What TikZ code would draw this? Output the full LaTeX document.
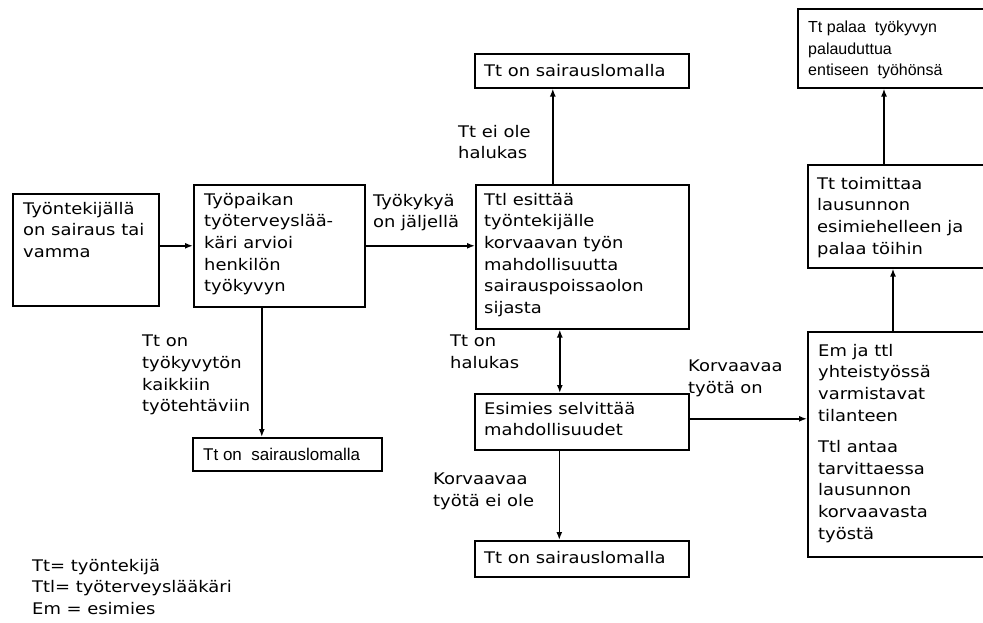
\documentclass[tikz,border=0pt]{standalone}
\usepackage{fontspec}
\setmainfont{DejaVu Sans}[FakeStretch=1.12]
\newfontfamily\arialf{Liberation Sans}
\usetikzlibrary{arrows.meta}
\begin{document}
\begin{tikzpicture}[x=1pt,y=-1pt,
  box/.style={draw, line width=1.6pt, inner sep=0pt, anchor=north west},
  txt/.style={inner sep=0pt, anchor=north west, align=left, font=\fontsize{16}{21.6}\selectfont},
  atxt/.style={inner sep=0pt, anchor=north west, align=left, font=\arialf\fontsize{16}{21.6}\selectfont},
  arr/.style={line width=1.5pt, -{Latex[length=8pt,width=6pt]}},
  darr/.style={line width=1.5pt, {Latex[length=8pt,width=6pt]}-{Latex[length=8pt,width=6pt]}}]
\clip (0,0) rectangle (983,623);
\fill[white] (0,0) rectangle (983,623);
% boxes
\node[box, minimum width=146pt, minimum height=112pt] (A) at (12,193) {};
\node[box, minimum width=171pt, minimum height=122pt] (B) at (193,184) {};
\node[box, minimum width=189pt, minimum height=33pt] (C) at (192,437) {};
\node[box, minimum width=213pt, minimum height=144pt] (D) at (475,184) {};
\node[box, minimum width=214pt, minimum height=34pt] (E) at (474,53) {};
\node[box, minimum width=214pt, minimum height=56pt] (F) at (474,393) {};
\node[box, minimum width=214pt, minimum height=36pt] (G) at (474,540) {};
\node[box, minimum width=190pt, minimum height=225pt] (H) at (807,331) {};
\node[box, minimum width=190pt, minimum height=103pt] (I) at (807,164) {};
\node[box, minimum width=200pt, minimum height=79pt] (J) at (797,8) {};
% box texts
\node[txt] (tA) at (23,202) {Työntekijällä\\on sairaus tai\\vamma};
\node[txt] (tB) at (204,193) {Työpaikan\\työterveyslää-\\käri arvioi\\henkilön\\työkyvyn};
\node[atxt, anchor=west, font=\arialf\fontsize{17}{21.6}\selectfont] (tC) at (203,454) {Tt on\ \ sairauslomalla};
\node[txt] (tD) at (484,193) {Ttl esittää\\työntekijälle\\korvaavan työn\\mahdollisuutta\\sairauspoissaolon\\sijasta};
\node[txt, anchor=west] (tE) at (484,71) {Tt on sairauslomalla};
\node[txt] (tF) at (484,402) {Esimies selvittää\\mahdollisuudet};
\node[txt, anchor=west] (tG) at (484,558) {Tt on sairauslomalla};
\node[txt] (tH) at (818,344) {Em ja ttl\\yhteistyössä\\varmistavat\\tilanteen\\[10pt]Ttl antaa\\tarvittaessa\\lausunnon\\korvaavasta\\työstä};
\node[txt] (tI) at (817,177) {Tt toimittaa\\lausunnon\\esimiehelleen ja\\palaa töihin};
\node[atxt] (tJ) at (808,21) {Tt palaa\ \ työkyvyn\\palauduttua\\entiseen\ \ työhönsä};
% labels
\node[txt] (l1) at (373,194) {Työkykyä\\on jäljellä};
\node[txt] (l2) at (458,125) {Tt ei ole\\halukas};
\node[txt] (l3) at (142,335) {Tt on\\työkyvytön\\kaikkiin\\työtehtäviin};
\node[txt] (l4) at (450,335) {Tt on\\halukas};
\node[txt] (l5) at (433,473) {Korvaavaa\\työtä ei ole};
\node[txt] (l6) at (688,360) {Korvaavaa\\työtä on};
\node[txt] (leg) at (32,559) {Tt= työntekijä\\Ttl= työterveyslääkäri\\Em = esimies};
% connectors
\draw[arr] (A.east |- B.west) -- (B.west);
\draw[arr] (B.east) -- (B.east -| D.west);
\draw[arr] ([xshift=-17.5pt]B.south) -- ([xshift=-17.5pt]B.south |- C.north);
\draw[arr] ([xshift=-29.5pt]D.north) -- ([xshift=-29.5pt]D.north |- E.south);
\draw[darr] ([xshift=-22.5pt]D.south) -- ([xshift=-22.5pt]D.south |- F.north);
\draw[arr] ([xshift=-22.5pt]F.south) -- ([xshift=-22.5pt]F.south |- G.north);
\draw[arr] ([yshift=3pt]F.east) -- ([yshift=3pt]F.east -| H.west);
\coordinate (hI) at (893,331);
\draw[arr] (hI |- H.north) -- (hI |- I.south);
\coordinate (iJ) at (884,164);
\draw[arr] (iJ |- I.north) -- (iJ |- J.south);
\end{tikzpicture}
\end{document}
